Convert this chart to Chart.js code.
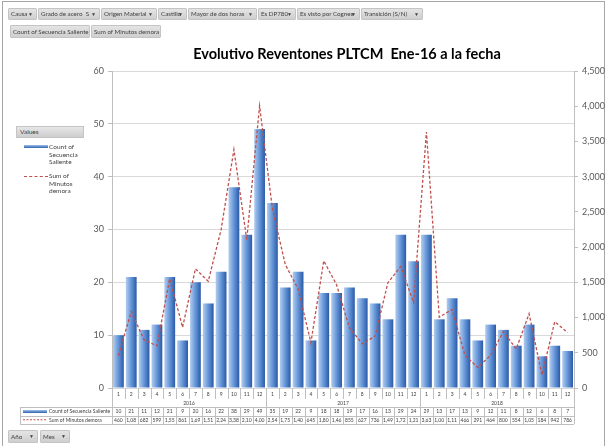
<!DOCTYPE html>
<html>
<head>
<meta charset="utf-8">
<script src="https://cdn.jsdelivr.net/npm/chart.js@4"></script>
<style>
  body { margin: 0; width: 612px; height: 446px; overflow: hidden; background: #fff; font-family: Lato, 'Open Sans', sans-serif; }
  .frame { position: absolute; left: 2px; top: 1px; width: 603px; height: 450px; border: 1px solid #a6a6a6; box-sizing: border-box; }
  canvas { position: absolute; left: 0; top: 0; }
  .btn { position: absolute; height: 12px; box-sizing: border-box; background: linear-gradient(#e4e4e4, #cfcfcf); border: 1px solid #c4c4c4; border-radius: 1px; font-size: 6.2px; line-height: 10px; color: #404040; padding-left: 2px; white-space: nowrap; overflow: hidden; z-index: 2; }
  .btn .arr { position: absolute; right: 3px; top: 0; font-size: 5px; }
  .legend-title { position: absolute; left: 16px; top: 126px; width: 63px; height: 10px; background: linear-gradient(#e6e6e6, #cdcdcd); border: 1px solid #c4c4c4; font-size: 6.5px; line-height: 9px; color: #404040; padding-left: 3px; box-sizing: content-box; }
  .legend-text { position: absolute; left: 49px; font-size: 6.5px; line-height: 7.5px; color: #404040; }
  .swatch-bar { position: absolute; left: 24px; top: 145px; width: 24px; height: 3px; background: linear-gradient(#9fc0ea, #2f62ad); }
  .swatch-line { position: absolute; left: 24px; top: 176px; width: 24px; border-top: 1.5px dashed #c0504d; }
</style>
</head>
<body>
<div class="frame"></div>
<canvas id="chart" width="612" height="446"></canvas>

<div class="btn" style="left:8px;top:8px;width:29px">Causa<span class="arr">▼</span></div>
<div class="btn" style="left:38px;top:8px;width:62px">Grado de acero&nbsp; S<span class="arr">▼</span></div>
<div class="btn" style="left:101px;top:8px;width:56px">Origen Material<span class="arr">▼</span></div>
<div class="btn" style="left:158px;top:8px;width:29px">Castillo<span class="arr">▼</span></div>
<div class="btn" style="left:188px;top:8px;width:69px">Mayor de dos horas<span class="arr">▼</span></div>
<div class="btn" style="left:258px;top:8px;width:38px">Es DP780<span class="arr">▼</span></div>
<div class="btn" style="left:297px;top:8px;width:63px">Es visto por Cognex<span class="arr">▼</span></div>
<div class="btn" style="left:361px;top:8px;width:62px">Transición (S/N)<span class="arr">▼</span></div>

<div class="btn" style="left:10px;top:25px;width:80px;height:13px;line-height:11px">Count of Secuencia Saliente</div>
<div class="btn" style="left:91px;top:25px;width:70px;height:13px;line-height:11px">Sum of Minutos demora</div>

<div class="btn" style="left:8px;top:430px;width:30px;height:13px;line-height:11px">Año<span class="arr">▼</span></div>
<div class="btn" style="left:40px;top:430px;width:30px;height:13px;line-height:11px">Mes<span class="arr">▼</span></div>

<div class="legend-title">Values</div>
<div class="swatch-bar"></div>
<div class="legend-text" style="top:143px">Count of<br>Secuencia<br>Saliente</div>
<div class="swatch-line"></div>
<div class="legend-text" style="top:172px">Sum of<br>Minutos<br>demora</div>

<script>
const years = ['2016', '2017', '2018'];
const months = ['1', '2', '3', '4', '5', '6', '7', '8', '9', '10', '11', '12'];

const countSecuencia = [
  10, 21, 11, 12, 21, 9, 20, 16, 22, 38, 29, 49,
  35, 19, 22, 9, 18, 18, 19, 17, 16, 13, 29, 24,
  29, 13, 17, 13, 9, 12, 11, 8, 12, 6, 8, 7
];
const minutosDemora = [
  460, 1085, 682, 599, 1552, 861, 1692, 1515, 2245, 3385, 2105, 4005,
  2545, 1755, 1405, 645, 1805, 1465, 855, 627, 736, 1495, 1725, 1215,
  3635, 1005, 1115, 466, 291, 464, 800, 554, 1055, 184, 942, 786
];

const leftTicks = { min: 0, max: 60, step: 10 };
const rightTicks = { min: 0, max: 4500, step: 500 };

const labels = years.flatMap((y) => months.map((m) => `${m} ${y}`));

const gridGray = '#d9d9d9';
const lineGray = '#bfbfbf';
const textGray = '#404040';

const barGradient = (c) => {
  const chart = c.chart;
  const xs = chart.scales.x;
  if (!xs || c.dataIndex === undefined) return '#5b8fd6';
  const cx = xs.getPixelForValue(c.dataIndex);
  const w = (xs.width / labels.length) * 0.84;
  if (!Number.isFinite(cx) || !Number.isFinite(w) || w <= 0) return '#5b8fd6';
  const g = chart.ctx.createLinearGradient(cx - w / 2, 0, cx + w / 2, 0);
  g.addColorStop(0, '#b3cdee');
  g.addColorStop(0.45, '#6b9bdc');
  g.addColorStop(1, '#2a5aa6');
  return g;
};

// excel cuts long numbers in the narrow table cells
const cellText = (v) => v.toLocaleString('en-US').slice(0, 4);

const dataTable = {
  id: 'dataTable',
  afterDraw(chart) {
    const { ctx } = chart;
    const xs = chart.scales.x;
    const n = labels.length;
    const step = xs.width / n;
    const left = xs.left;
    const right = xs.right;
    const top = chart.chartArea.bottom;
    const rowMonth = [top, top + 11];
    const rowYear = [top + 11, top + 19];
    const rowCount = [top + 19, top + 27.5];
    const rowMin = [top + 27.5, top + 36];
    const keyLeft = 20;

    ctx.save();
    ctx.strokeStyle = lineGray;
    ctx.lineWidth = 1;
    const px = (v) => Math.round(v) + 0.5;
    const vline = (x, y0, y1) => { ctx.beginPath(); ctx.moveTo(px(x), y0); ctx.lineTo(px(x), y1); ctx.stroke(); };
    const hline = (x0, x1, y) => { ctx.beginPath(); ctx.moveTo(x0, px(y)); ctx.lineTo(x1, px(y)); ctx.stroke(); };

    for (let i = 0; i <= n; i++) {
      vline(left + i * step, rowMonth[0], rowMonth[1]);
      vline(left + i * step, rowCount[0], rowMin[1]);
    }
    for (let j = 0; j <= years.length; j++) {
      vline(left + j * months.length * step, rowYear[0], rowYear[1]);
    }
    vline(keyLeft, rowCount[0], rowMin[1]);
    hline(keyLeft, right, rowCount[0]);
    hline(keyLeft, right, rowMin[0]);
    hline(keyLeft, right, rowMin[1]);

    ctx.fillStyle = textGray;
    ctx.textAlign = 'center';
    ctx.textBaseline = 'middle';
    ctx.font = '5px Lato, sans-serif';
    labels.forEach((lab, i) => {
      const cx = xs.getPixelForValue(i);
      ctx.fillText(months[i % months.length], cx, (rowMonth[0] + rowMonth[1]) / 2 + 0.5);
      ctx.fillText(String(countSecuencia[i]), cx, (rowCount[0] + rowCount[1]) / 2 + 0.5);
      ctx.fillText(cellText(minutosDemora[i]), cx, (rowMin[0] + rowMin[1]) / 2 + 0.5);
    });
    years.forEach((y, j) => {
      const cx = left + (j * months.length + months.length / 2) * step;
      ctx.fillText(y, cx, (rowYear[0] + rowYear[1]) / 2);
    });

    // legend keys inside the table
    const g = ctx.createLinearGradient(0, rowCount[0] + 3, 0, rowCount[0] + 6);
    g.addColorStop(0, '#9fc0ea');
    g.addColorStop(1, '#2f62ad');
    ctx.fillStyle = g;
    ctx.fillRect(keyLeft + 3, rowCount[0] + 3, 24, 3);
    ctx.strokeStyle = '#c0504d';
    ctx.setLineDash([2, 1.5]);
    ctx.beginPath();
    ctx.moveTo(keyLeft + 3, (rowMin[0] + rowMin[1]) / 2);
    ctx.lineTo(keyLeft + 27, (rowMin[0] + rowMin[1]) / 2);
    ctx.stroke();
    ctx.setLineDash([]);
    ctx.fillStyle = textGray;
    ctx.textAlign = 'left';
    ctx.fillText('Count of Secuencia Saliente', keyLeft + 29, (rowCount[0] + rowCount[1]) / 2 + 0.5);
    ctx.fillText('Sum of Minutos demora', keyLeft + 29, (rowMin[0] + rowMin[1]) / 2 + 0.5);
    ctx.restore();
  },
};

new Chart(document.getElementById('chart'), {
  type: 'bar',
  data: {
    labels,
    datasets: [
      {
        type: 'line',
        label: 'Sum of Minutos demora',
        data: minutosDemora,
        yAxisID: 'y1',
        borderColor: '#c0504d',
        borderWidth: 1.3,
        borderDash: [3, 2],
        pointRadius: 0,
        tension: 0,
        order: 0,
      },
      {
        label: 'Count of Secuencia Saliente',
        data: countSecuencia,
        yAxisID: 'y',
        backgroundColor: barGradient,
        categoryPercentage: 1,
        barPercentage: 0.84,
        order: 1,
      },
    ],
  },
  options: {
    responsive: false,
    animation: false,
    layout: { padding: { left: 82, right: 0, top: 40, bottom: 18 } },
    plugins: {
      legend: { display: false },
      tooltip: { enabled: false },
      title: {
        display: true,
        text: 'Evolutivo Reventones PLTCM  Ene-16 a la fecha',
        color: '#000',
        font: { family: 'Lato, sans-serif', size: 14.5, weight: 'bold' },
        padding: { top: 6, bottom: 7.6 },
      },
    },
    scales: {
      x: {
        offset: true,
        grid: { display: false },
        border: { display: false },
        ticks: { display: false },
        afterFit(s) { s.height = 40; },
      },
      y: {
        position: 'left',
        min: leftTicks.min,
        max: leftTicks.max,
        ticks: { stepSize: leftTicks.step, color: '#595959', font: { family: 'Lato, sans-serif', size: 9 }, padding: 4 },
        grid: { color: gridGray, tickLength: 4, tickColor: lineGray },
        border: { color: lineGray },
        afterFit(s) { s.width = 30; },
      },
      y1: {
        position: 'right',
        min: rightTicks.min,
        max: rightTicks.max,
        ticks: {
          stepSize: rightTicks.step,
          color: '#595959',
          font: { family: 'Lato, sans-serif', size: 9 },
          padding: 4,
          callback: (v) => v.toLocaleString('en-US'),
        },
        grid: { drawOnChartArea: false, tickLength: 4, color: lineGray },
        border: { color: lineGray },
        afterFit(s) { s.width = 38; },
      },
    },
  },
  plugins: [dataTable],
});
</script>
</body>
</html>
